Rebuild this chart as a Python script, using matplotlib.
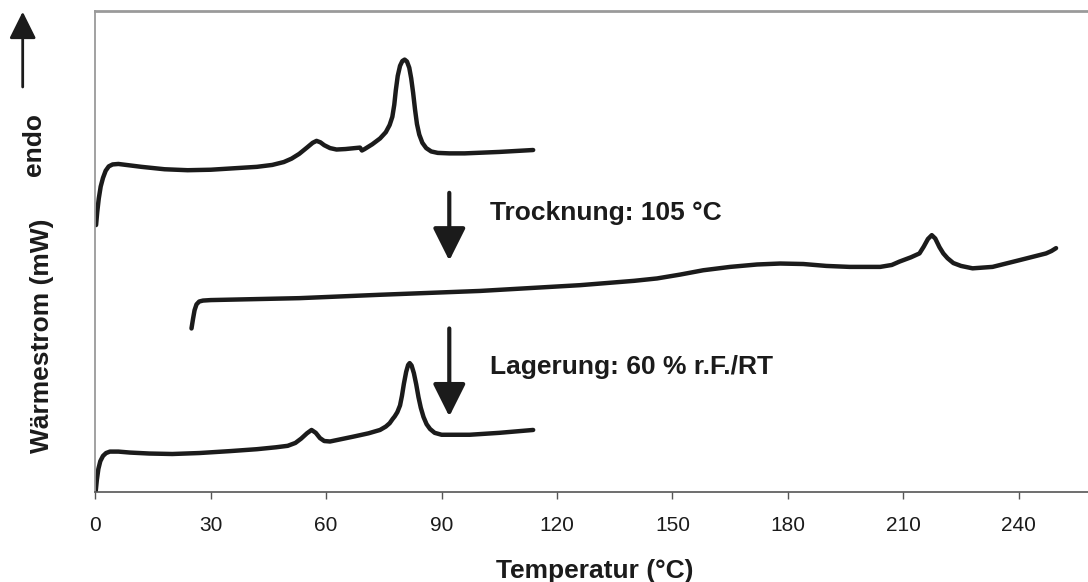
import matplotlib
matplotlib.use("Agg")
import matplotlib.pyplot as plt
from matplotlib.patches import FancyArrowPatch

plt.rcParams["font.family"] = ["Liberation Sans", "DejaVu Sans"]

INK = "#1b1b1b"

# DSC-Kurven (Temperatur in °C, Wärmestrom in willkürlichen Einheiten)
t_original = [0.2, 0.5, 0.9, 1.4, 2, 2.7, 3.5, 4.5, 6, 8, 12, 18, 24, 30, 36,
              42, 46, 49, 51, 53, 55, 56.5, 57.5, 58.5, 59.5, 61, 62.7, 65,
              67.5, 68.8, 69.3, 70, 72, 74, 75.5, 76.5, 77.2, 77.7, 78.1,
              78.6, 79.2, 79.8, 80.4, 81.0, 81.6, 82.1, 82.6, 83.1, 83.6,
              84.2, 85, 86, 87.3, 89, 92, 96, 105, 113.8]
q_original = [55.5, 58.2, 61.0, 63.5, 65.3, 66.8, 67.7, 68.1, 68.2, 68.0,
              67.6, 67.1, 66.9, 67.0, 67.3, 67.6, 68.0, 68.6, 69.3, 70.3,
              71.6, 72.6, 73.0, 72.7, 72.1, 71.5, 71.2, 71.3, 71.5, 71.6,
              71.0, 71.3, 72.3, 73.5, 74.8, 76.3, 78.0, 80.5, 83.5, 86.5,
              88.6, 89.6, 89.9, 89.5, 88.2, 86.0, 83.0, 79.5, 76.5, 74.3,
              72.6, 71.5, 70.8, 70.5, 70.4, 70.4, 70.7, 71.1]

t_getrocknet = [25.0, 25.4, 25.8, 26.3, 27, 28, 30, 53, 73.9, 100, 126, 140,
                146, 152, 158, 165, 172, 178, 184, 190, 196, 204, 207, 209,
                212, 214.2, 215.3, 216.4, 217.4, 218.3, 219.4, 220.4, 221.5,
                223, 225, 228, 233.2, 240.2, 247.1, 248.5, 249.7]
q_getrocknet = [34.0, 36.0, 37.8, 39.0, 39.6, 39.8, 39.9, 40.3, 41.0, 41.8,
                43.0, 43.9, 44.4, 45.2, 46.1, 46.8, 47.3, 47.5, 47.4, 47.0,
                46.8, 46.8, 47.2, 47.9, 48.8, 49.6, 51.0, 52.6, 53.4, 52.7,
                50.9, 49.6, 48.6, 47.6, 47.0, 46.5, 46.8, 48.2, 49.6, 50.1,
                50.7]

t_gelagert = [0.1, 0.4, 0.8, 1.3, 2, 2.8, 3.8, 6, 9, 14, 20, 27, 35, 42, 47,
              50, 52, 53.5, 55, 56.2, 57.3, 58.4, 59.5, 61, 64, 67, 71, 74,
              75.5, 76.5, 77.3, 77.8, 78.5, 79.2, 79.7, 80.2, 80.8, 81.3,
              81.7, 82.2, 82.8, 83.4, 84, 84.6, 85.3, 86.1, 87, 88.2, 90,
              97.3, 105, 113.8]
q_gelagert = [0.1, 2.5, 4.8, 6.4, 7.5, 8.1, 8.4, 8.4, 8.2, 8.0, 7.9, 8.1,
              8.5, 8.9, 9.3, 9.6, 10.2, 11.1, 12.2, 12.9, 12.3, 11.2, 10.6,
              10.5, 11.0, 11.5, 12.2, 12.9, 13.6, 14.3, 15.2, 15.7, 16.6,
              18.0, 20.0, 22.5, 25.0, 26.4, 26.8, 26.3, 24.7, 22.4, 19.7,
              17.5, 15.6, 14.1, 13.1, 12.3, 11.9, 11.9, 12.3, 12.9]

xticks = [0, 30, 60, 90, 120, 150, 180, 210, 240]

# Pfeile zwischen den Kurven: (y_start, y_ende, Beschriftung, y_text)
arrow_x = 92
arrows = [(62.2, 48.1, "Trocknung: 105 °C", 56.6),
          (34.0, 15.7, "Lagerung: 60 % r.F./RT", 24.6)]

fig = plt.figure(figsize=(10.88, 5.82), dpi=100)
ax = fig.add_axes([95.3 / 1088, 90 / 582, (1088 - 95.3) / 1088, 481 / 582])

for t, q in [(t_original, q_original), (t_getrocknet, q_getrocknet),
             (t_gelagert, q_gelagert)]:
    ax.plot(t, q, color=INK, lw=3.2, solid_capstyle="round",
            solid_joinstyle="round")

for y0, y1, label, ytext in arrows:
    ax.annotate("", xy=(arrow_x, y1), xytext=(arrow_x, y0),
                arrowprops=dict(arrowstyle="-|>,head_length=20,head_width=10",
                                mutation_scale=1, lw=3, color=INK,
                                shrinkA=0, shrinkB=0))
    ax.text(102.5, ytext, label, fontsize=19, fontweight="bold", color=INK,
            va="baseline", ha="left")

ax.set_xlim(0, 258)
ax.set_ylim(0, 100)
ax.set_xticks(xticks)
ax.set_yticks([])
ax.tick_params(axis="x", direction="out", length=5.3, width=1,
               color="#555555", labelsize=15, labelcolor=INK, pad=12)

ax.spines["right"].set_visible(False)
ax.spines["left"].set_color("#9a9a9a")
ax.spines["left"].set_linewidth(1.3)
ax.spines["top"].set_color("#9a9a9a")
ax.spines["top"].set_linewidth(2)
ax.spines["bottom"].set_color("#555555")
ax.spines["bottom"].set_linewidth(1.2)

# Achsenbeschriftungen
fig.text(595, 3.7, "Temperatur (°C)", transform=None, fontsize=19,
         fontweight="bold", color=INK, ha="center", va="baseline")
fig.text(42.5, 246, "Wärmestrom (mW)", transform=None, fontsize=19,
         fontweight="bold", color=INK, rotation=90, ha="center", va="center")
fig.text(34, 437, "endo", transform=None, fontsize=19, fontweight="bold",
         color=INK, rotation=90, ha="center", va="center")
fig.add_artist(FancyArrowPatch(
    (22.7, 495), (22.7, 570.3), transform=None,
    arrowstyle="-|>,head_length=16.5,head_width=8.2", mutation_scale=1,
    lw=2, color=INK, shrinkA=0, shrinkB=0))

fig.savefig("out.png", dpi=100)
